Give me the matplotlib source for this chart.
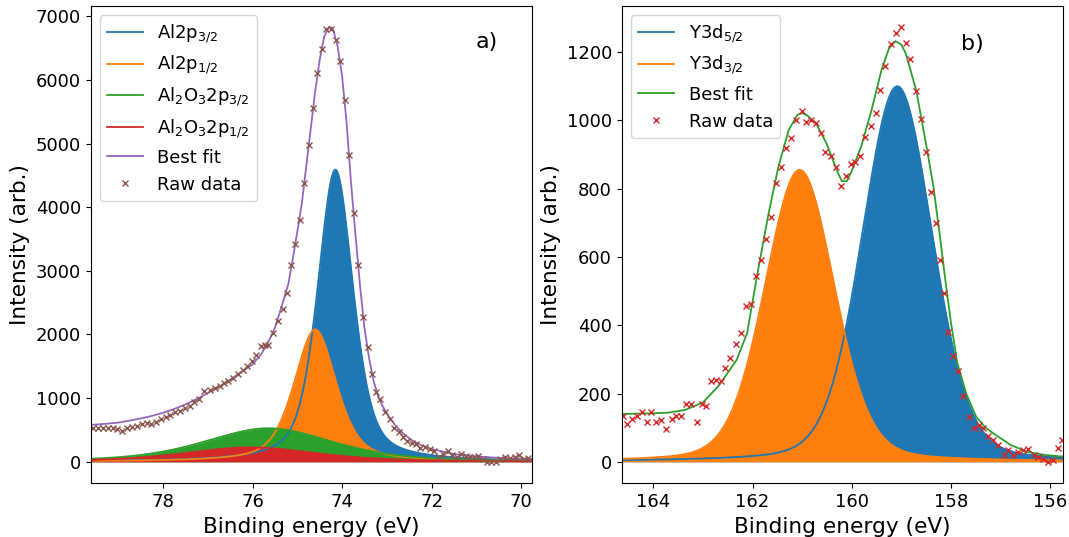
import numpy as np
import matplotlib
matplotlib.use('Agg')
import matplotlib.pyplot as plt

# Al 2p region: raw data (binding energy, counts)
al_energy = [79.57, 79.46, 79.35, 79.24, 79.12, 79.03, 78.92, 78.80, 78.69, 78.58,
             78.47, 78.36, 78.27, 78.16, 78.04, 77.93, 77.84, 77.73, 77.63, 77.52,
             77.41, 77.30, 77.19, 77.08, 76.96, 76.85, 76.74, 76.63, 76.54, 76.43,
             76.33, 76.22, 76.12, 76.02, 75.92, 75.81, 75.72, 75.66, 75.55, 75.44,
             75.33, 75.23, 75.14, 75.05, 74.94, 74.85, 74.74, 74.65, 74.55, 74.46,
             74.35, 74.25, 74.14, 74.04, 73.94, 73.85, 73.74, 73.64, 73.54, 73.43,
             73.34, 73.25, 73.16, 73.05, 72.94, 72.84, 72.73, 72.64, 72.54, 72.44,
             72.35, 72.25, 72.15, 72.04, 71.95, 71.84, 71.74, 71.64, 71.54, 71.43,
             71.34, 71.24, 71.15, 71.05, 70.96, 70.86, 70.76, 70.67, 70.57, 70.46,
             70.35, 70.24, 70.14, 70.04, 69.94, 69.84]
al_counts = [526, 526, 526, 537, 537, 520, 484, 537, 547, 568,
             589, 605, 589, 632, 668, 710, 737, 774, 800, 842,
             879, 932, 989, 1105, 1132, 1158, 1195, 1237, 1263, 1316,
             1384, 1447, 1500, 1579, 1684, 1816, 1830, 1842, 2026, 2211,
             2395, 2645, 3087, 3429, 3801, 4385, 4984, 5558, 6110, 6489,
             6798, 6793, 6625, 6305, 5678, 4822, 3902, 3092, 2277, 1798,
             1378, 1094, 984, 784, 673, 532, 463, 394, 331, 290,
             279, 221, 227, 200, 174, 79, 117, 174, 106, 79,
             117, 90, 79, 79, 95, 40, 0, -10, 0, 38,
             69, 54, 69, 106, 43, 54]

# Al 2p best fit curve
al_fit_energy = [79.62, 79.3, 79.0, 78.75, 78.5, 78.25, 78.0, 77.75, 77.5, 77.25,
                 77.0, 76.75, 76.5, 76.25, 76.0, 75.8, 75.6, 75.5, 75.4, 75.3,
                 75.2, 75.1, 75.0, 74.9, 74.8, 74.7, 74.6, 74.5, 74.4, 74.3,
                 74.25, 74.2, 74.1, 74.0, 73.9, 73.8, 73.7, 73.6, 73.5, 73.4,
                 73.3, 73.2, 73.1, 73.0, 72.8, 72.6, 72.4, 72.2, 72.0, 71.5,
                 71.0, 70.5, 70.0, 69.75]
al_fit = [578, 595, 615, 645, 680, 720, 770, 830, 900, 985,
          1080, 1180, 1290, 1410, 1530, 1700, 1950, 2110, 2330, 2560,
          2800, 3200, 3620, 4060, 4650, 5240, 5830, 6320, 6680, 6820,
          6830, 6790, 6530, 6060, 5330, 4380, 3560, 2770, 2100, 1640,
          1280, 1040, 880, 760, 560, 420, 320, 250, 200, 120,
          85, 60, 48, 45]

# Al 2p fitted components (centre, height, half width, lorentz fraction)
al_labels = ['Al2p$_{3/2}$', 'Al2p$_{1/2}$', 'Al$_2$O$_3$2p$_{3/2}$', 'Al$_2$O$_3$2p$_{1/2}$']
al_centres = [74.15, 74.60, 75.65, 76.05]
al_heights = [4590, 2080, 526, 226]
al_hwhm = [0.47, 0.56, 1.70, 1.75]
al_eta = [0.5, 0.5, 0.5, 0.5]

# Y 3d region: raw data
y_energy = [164.61, 164.53, 164.43, 164.34, 164.24, 164.14, 164.05, 163.94, 163.84, 163.74,
            163.63, 163.55, 163.45, 163.34, 163.24, 163.13, 163.03, 162.94, 162.84, 162.74,
            162.64, 162.55, 162.45, 162.34, 162.24, 162.13, 162.04, 161.93, 161.84, 161.72,
            161.62, 161.53, 161.43, 161.33, 161.22, 161.12, 161.01, 160.92, 160.83, 160.73,
            160.62, 160.53, 160.42, 160.32, 160.22, 160.11, 160.02, 159.93, 159.83, 159.73,
            159.62, 159.51, 159.42, 159.32, 159.21, 159.10, 159.01, 158.91, 158.82, 158.70,
            158.61, 158.50, 158.41, 158.30, 158.21, 158.14, 158.05, 157.95, 157.85, 157.75,
            157.64, 157.54, 157.44, 157.35, 157.24, 157.14, 157.05, 156.93, 156.84, 156.74,
            156.64, 156.54, 156.44, 156.33, 156.24, 156.14, 156.03, 155.94, 155.84, 155.76]
y_counts = [135, 111, 125, 135, 146, 118, 146, 118, 122, 95,
            125, 135, 135, 169, 169, 118, 169, 162, 238, 240,
            238, 275, 304, 345, 377, 456, 462, 545, 591, 654,
            718, 817, 862, 918, 949, 1001, 1028, 994, 1001, 991,
            964, 906, 895, 864, 808, 837, 872, 877, 895, 952,
            983, 1022, 1089, 1159, 1225, 1255, 1274, 1227, 1181, 1086,
            1003, 908, 789, 700, 591, 493, 380, 309, 265, 193,
            132, 100, 108, 98, 75, 64, 49, 20, 34, 20,
            29, 34, 37, 20, 15, 7, 0, 5, 41, 64]

# Y 3d best fit curve
y_fit_energy = [164.65, 164.0, 163.7, 163.36, 163.0, 162.67, 162.32, 162.11, 161.91, 161.69,
                161.48, 161.27, 161.1, 161.01, 160.9, 160.72, 160.51, 160.30, 160.20, 160.1,
                160.02, 159.81, 159.60, 159.40, 159.25, 159.12, 159.0, 158.91, 158.70, 158.49,
                158.35, 158.21, 158.1, 158.0, 157.87, 157.69, 157.49, 157.3, 157.14, 156.79,
                156.45, 156.10, 155.73]
y_fit = [140, 142, 144, 152, 174, 225, 299, 377, 545, 718,
         864, 972, 1015, 1022, 1015, 991, 933, 854, 822, 822,
         845, 923, 1030, 1147, 1210, 1232, 1222, 1196, 1089, 923,
         805, 649, 520, 410, 290, 200, 132, 100, 83, 49,
         29, 20, 15]

y_labels = ['Y3d$_{5/2}$', 'Y3d$_{3/2}$']
y_centres = [159.08, 161.05]
y_heights = [1100, 855]
y_hwhm = [0.84, 0.83]
y_eta = [0.2, 0.2]


def pseudo_voigt(x, centre, height, hwhm, eta):
    r2 = ((x - centre) / hwhm) ** 2
    return height * ((1 - eta) * np.exp(-np.log(2) * r2) + eta / (1 + r2))


colors = plt.rcParams['axes.prop_cycle'].by_key()['color']

fig = plt.figure(figsize=(10.69, 5.37), dpi=100)
ax1 = fig.add_axes([0.0848, 0.100, 0.4131, 0.8888])
ax2 = fig.add_axes([0.5816, 0.100, 0.4131, 0.8888])

# a) Al 2p
x1 = np.linspace(69.75, 79.62, 800)
for i in range(4):
    comp = pseudo_voigt(x1, al_centres[i], al_heights[i], al_hwhm[i], al_eta[i])
    ax1.plot(x1, comp, color=colors[i], lw=1.3, label=al_labels[i])
    ax1.fill_between(x1, comp, color=colors[i], lw=0)
ax1.plot(al_fit_energy, al_fit, color=colors[4], lw=1.3, label='Best fit')
ax1.plot(al_energy, al_counts, 'x', color=colors[5], ms=5, label='Raw data')
ax1.set_xlim(79.62, 69.75)
ax1.set_ylim(-339, 7162)
ax1.set_xlabel('Binding energy (eV)', fontsize=15.6)
ax1.set_ylabel('Intensity (arb.)', fontsize=15.6)
ax1.tick_params(labelsize=13)
ax1.legend(loc='upper left', fontsize=13)
ax1.text(0.897, 0.925, 'a)', transform=ax1.transAxes, fontsize=16, ha='center', va='center')

# b) Y 3d
x2 = np.linspace(155.73, 164.64, 800)
for i in range(2):
    comp = pseudo_voigt(x2, y_centres[i], y_heights[i], y_hwhm[i], y_eta[i])
    ax2.plot(x2, comp, color=colors[i], lw=1.3, label=y_labels[i])
    ax2.fill_between(x2, comp, color=colors[i], lw=0)
ax2.plot(y_fit_energy, y_fit, color=colors[2], lw=1.3, label='Best fit')
ax2.plot(y_energy, y_counts, 'x', color=colors[3], ms=5, label='Raw data')
ax2.set_xlim(164.64, 155.73)
ax2.set_ylim(-63, 1335)
ax2.set_xlabel('Binding energy (eV)', fontsize=15.6)
ax2.set_ylabel('Intensity (arb.)', fontsize=15.6)
ax2.tick_params(labelsize=13)
ax2.legend(loc='upper left', fontsize=13)
ax2.text(0.793, 0.92, 'b)', transform=ax2.transAxes, fontsize=16, ha='center', va='center')

fig.savefig('out.png', dpi=100)
